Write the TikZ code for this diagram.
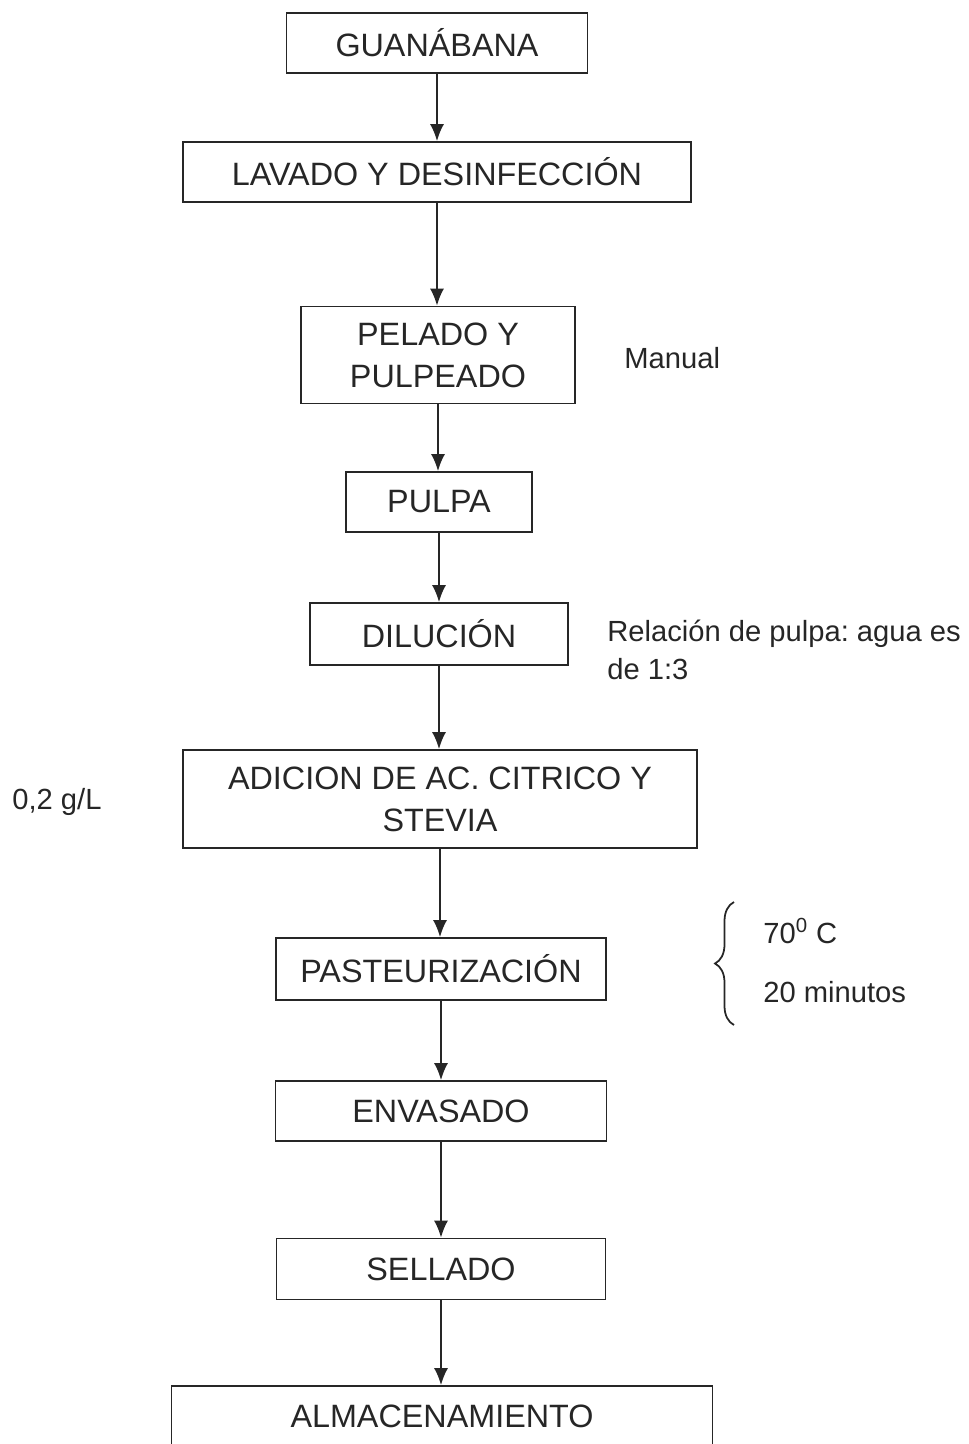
\documentclass[tikz,border=0pt]{standalone}
\usepackage{fontspec}
\setmainfont{Liberation Sans}
\frenchspacing
\usetikzlibrary{shapes,arrows,arrows.meta,decorations.pathreplacing}

\begin{document}
\begin{tikzpicture}[x=0.02cm, y=-0.02cm, font=\fontsize{18.4}{23.8}\selectfont, color=black!85]
	\tikzstyle{block} = [rectangle, draw, inner sep=0pt, align=center, minimum height=1.2cm, line width=1pt]
	\tikzstyle{line} = [draw, -{Latex[length=0.34cm,width=0.28cm]}, line width=1pt]
	\tikzstyle{note} = [anchor=west, inner sep=0pt, align=left, font=\fontsize{16.6}{21.5}\selectfont]
	\useasboundingbox (0,0) rectangle (968,1444);
	\clip (0,0) rectangle (968,1444);
	% Place nodes
	\node [block, minimum width=6.02cm] (guanabana) at (437,43) {GUANÁBANA};
	\node [block, minimum width=10.16cm] (lavado) at (437,172) {LAVADO Y DESINFECCIÓN};
	\node [block, minimum width=5.48cm, minimum height=1.94cm] (pelado) at (438,355) {PELADO Y\\PULPEADO};
	\node [block, minimum width=3.72cm] (pulpa) at (439,502) {PULPA};
	\node [block, minimum width=5.16cm, minimum height=1.24cm] (dilucion) at (439,634) {DILUCIÓN};
	\node [block, minimum width=10.28cm, minimum height=1.96cm] (adicion) at (440,799) {ADICION DE AC. CITRICO Y\\STEVIA};
	\node [block, minimum width=6.6cm, minimum height=1.24cm] (pasteur) at (441,969) {PASTEURIZACIÓN};
	\node [block, minimum width=6.62cm] (envasado) at (441,1111) {ENVASADO};
	\node [block, minimum width=6.58cm, minimum height=1.22cm] (sellado) at (441,1269) {SELLADO};
	\node [block, minimum width=10.82cm] (almacen) at (442,1416) {ALMACENAMIENTO};
	% Side notes
	\node [note] (manual) at (624,358) {Manual};
	\node [note] (relacion) at (607,650) {Relación de pulpa: agua es\\de 1:3};
	\node [note] (citrico) at (12,802) {0,2 g/L};
	\node [note] (temp) at (763,931) {70\textsuperscript{0} C};
	\node [note] (tiempo) at (763,992) {20 minutos};
	\coordinate (braceb) at (734,1025);
	\coordinate (bracet) at (734,902);
	\draw [decorate, decoration={brace, amplitude=0.38cm}, line width=1pt] (braceb) -- (bracet);
	% Draw edges
	\path [line] (guanabana.south) -- (guanabana.south |- lavado.north);
	\path [line] (lavado.south) -- (lavado.south |- pelado.north);
	\path [line] (pelado.south) -- (pelado.south |- pulpa.north);
	\path [line] (pulpa.south) -- (pulpa.south |- dilucion.north);
	\path [line] (dilucion.south) -- (dilucion.south |- adicion.north);
	\path [line] (adicion.south) -- (adicion.south |- pasteur.north);
	\path [line] (pasteur.south) -- (pasteur.south |- envasado.north);
	\path [line] (envasado.south) -- (envasado.south |- sellado.north);
	\path [line] (sellado.south) -- (sellado.south |- almacen.north);
\end{tikzpicture}
\end{document}
